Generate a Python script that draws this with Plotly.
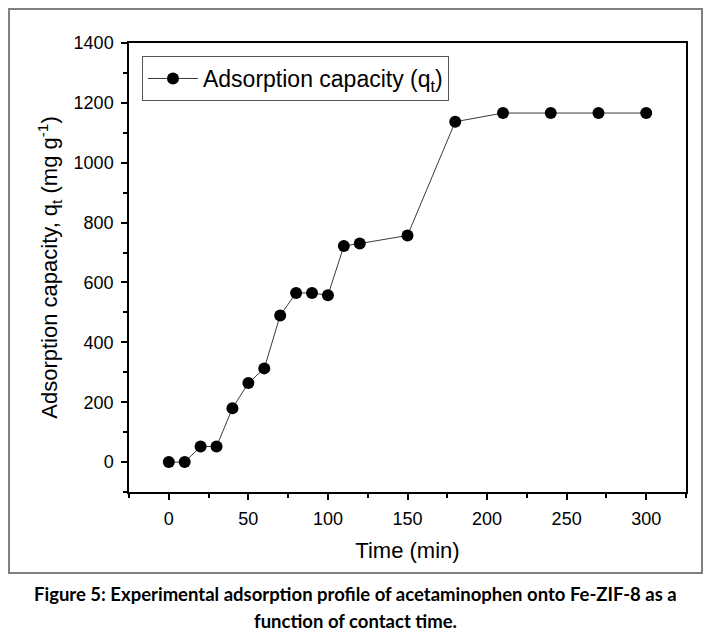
import plotly.graph_objects as go

# contact time (min) and adsorption capacity q_t (mg/g)
time_min = [0, 10, 20, 30, 40, 50, 60, 70, 80, 90, 100, 110, 120, 150, 180, 210, 240, 270, 300]
q_t = [0, 0, 52, 52, 180, 264, 313, 490, 565, 565, 557, 722, 730, 757, 1137, 1166, 1166, 1166, 1166]

x_ticks = [0, 50, 100, 150, 200, 250, 300]
y_ticks = [0, 200, 400, 600, 800, 1000, 1200, 1400]

caption_1 = "Figure 5: Experimental adsorption profile of acetaminophen onto Fe-ZIF-8 as a"
caption_2 = "function of contact time."

fig = go.Figure(
    go.Scatter(
        x=time_min,
        y=q_t,
        mode="lines+markers",
        name="Adsorption capacity (q<sub>t</sub>)",
        line=dict(color="#3a3a3a", width=1),
        marker=dict(color="black", size=12),
    )
)

axis_common = dict(
    showline=True,
    linecolor="black",
    linewidth=1.5,
    mirror=True,
    ticks="outside",
    ticklen=6,
    tickwidth=1.5,
    tickcolor="black",
    showgrid=False,
    zeroline=False,
    ticklabelstandoff=4,
    tickfont=dict(family="Liberation Sans, Arial", size=18, color="black"),
)

fig.update_xaxes(
    range=[-25, 325],
    tickvals=x_ticks,
    minor=dict(dtick=25, tick0=0, ticks="outside", ticklen=4, tickwidth=1.5, tickcolor="black"),
    title=dict(text="Time (min)", font=dict(family="Liberation Sans, Arial", size=22, color="black"), standoff=14),
    **axis_common,
)
fig.update_yaxes(
    range=[-100, 1400],
    tickvals=y_ticks,
    minor=dict(dtick=100, tick0=0, ticks="outside", ticklen=4, tickwidth=1.5, tickcolor="black"),
    title=dict(
        text="Adsorption capacity, q<sub>t</sub> (mg g<sup>-1</sup>)",
        font=dict(family="Liberation Sans, Arial", size=22, color="black"),
        standoff=10,
    ),
    **axis_common,
)

cap_font = dict(family="Lato", size=18.5, color="black", weight="bold")

# the page body adds 8px of margin, so the margins are reduced to keep the plot in place
fig.update_layout(
    width=712,
    height=638,
    margin=dict(l=121, r=34, t=35, b=154, autoexpand=False),
    paper_bgcolor="white",
    plot_bgcolor="white",
    showlegend=True,
    legend=dict(
        x=0.0233,
        y=0.971,
        xanchor="left",
        yanchor="top",
        bgcolor="white",
        bordercolor="#555",
        borderwidth=1,
        itemwidth=50,
        font=dict(family="Liberation Sans, Arial", size=23, color="black"),
    ),
    # grey frame around the chart
    shapes=[
        dict(
            type="rect", xref="paper", yref="paper",
            x0=-0.2154, x1=1.0287, y0=-0.1804, y1=1.0757,
            line=dict(color="#7f7f7f", width=2),
        )
    ],
    annotations=[
        dict(text=caption_1, xref="paper", yref="paper", x=0.4075, y=-0.2272,
             xanchor="center", yanchor="middle", showarrow=False, font=cap_font),
        dict(text=caption_2, xref="paper", yref="paper", x=0.4075, y=-0.2873,
             xanchor="center", yanchor="middle", showarrow=False, font=cap_font),
    ],
)

fig.write_html("out.html")
